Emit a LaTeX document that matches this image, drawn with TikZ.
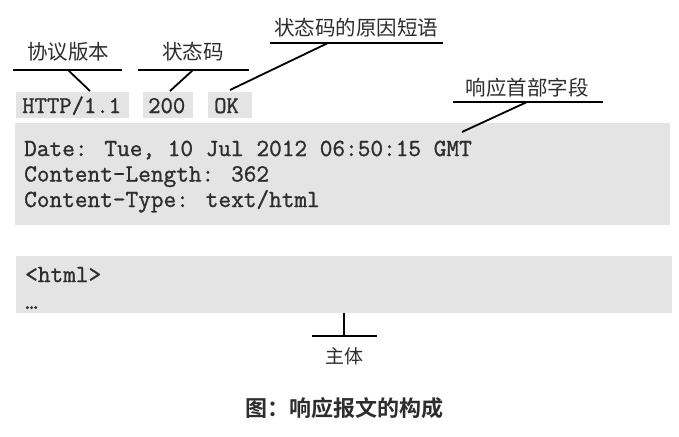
\documentclass[tikz,border=0pt]{standalone}
\usepackage{fontspec}
\newfontfamily\cjk{Noto Sans CJK SC}
\newfontfamily\cjkb{Noto Sans CJK SC Bold}
\newfontfamily\codefont{Latin Modern Mono}[FakeBold=1.2]
\definecolor{boxgray}{RGB}{228,228,228}
\definecolor{ink}{RGB}{45,45,45}
\tikzset{
  graybox/.style={fill=boxgray, draw=none, inner sep=0pt, anchor=north west},
  mono/.style={font=\codefont\fontsize{24.6}{28}\selectfont, text=ink, inner sep=0pt, anchor=base west},
  lbl/.style={font=\cjk\fontsize{20.5}{24}\selectfont, text=ink, inner sep=0pt},
  lead/.style={draw=black, line width=1.8pt},
}
\begin{document}
\begin{tikzpicture}[x=1pt,y=-1pt]
\useasboundingbox (0,0) rectangle (679,436);
% status line boxes
\node[graybox, minimum width=113pt, minimum height=26pt] (httpbox) at (16,92) {};
\node[graybox, minimum width=50pt, minimum height=26pt] (codebox) at (143,92) {};
\node[graybox, minimum width=44pt, minimum height=26pt] (okbox) at (208,92) {};
\node[mono, font=\codefont\fontsize{24}{28}\selectfont] (http) at (22,113) {HTTP/1.1};
\node[mono, font=\codefont\fontsize{24}{28}\selectfont] (code) at (148,113) {200};
\node[mono, font=\codefont\fontsize{24}{28}\selectfont] (ok) at (214,113) {OK};
% header box
\node[graybox, minimum width=655pt, minimum height=102pt] (hdr) at (15,123) {};
\node[mono] (h1) at (24,156) {Date: Tue, 10 Jul 2012 06:50:15 GMT};
\node[mono] (h2) at (24,181.5) {Content-Length: 362};
\node[mono] (h3) at (24,207) {Content-Type: text/html};
% body box
\node[graybox, minimum width=656pt, minimum height=57pt] (body) at (16,256) {};
\node[mono] (b1) at (25,282) {<html>};
\node[mono] (b2) at (25,309) {…};
% labels
\node[lbl] (lver) at (68,52) {协议版本};
\node[lbl] (lcode) at (193,52) {状态码};
\node[lbl] (lreason) at (356,28) {状态码的原因短语};
\node[lbl] (lhdr) at (527,88) {响应首部字段};
\node[lbl, font=\cjk\fontsize{19}{22}\selectfont] (lbody) at (344,356) {主体};
\node[font=\cjkb\fontsize{22}{26}\selectfont, text=ink, inner sep=0pt] (cap) at (344,408) {图：响应报文的构成};
% underline coordinates
\coordinate (verL) at (13,70);  \coordinate (verR) at (122,70);  \coordinate (verM) at (68,70);  \coordinate (verE) at (90,91);
\coordinate (codeL) at (138,70); \coordinate (codeR) at (249,70); \coordinate (codeM) at (193,70); \coordinate (codeE) at (170,91);
\coordinate (resL) at (270,43); \coordinate (resR) at (443,43); \coordinate (resM) at (328,43); \coordinate (resE) at (230,90);
\coordinate (hdrL) at (453,102); \coordinate (hdrR) at (603,102); \coordinate (hdrM) at (527,102); \coordinate (hdrE) at (462,132);
\coordinate (bodL) at (312,336); \coordinate (bodR) at (377,336); \coordinate (bodM) at (344,336); \coordinate (bodE) at (344,313);
\draw[lead] (verL) -- (verR); \draw[lead] (verM) -- (verE);
\draw[lead] (codeL) -- (codeR); \draw[lead] (codeM) -- (codeE);
\draw[lead] (resL) -- (resR); \draw[lead] (resM) -- (resE);
\draw[lead] (hdrL) -- (hdrR); \draw[lead] (hdrM) -- (hdrE);
\draw[lead] (bodL) -- (bodR); \draw[lead] (bodM) -- (bodE);
\end{tikzpicture}
\end{document}
